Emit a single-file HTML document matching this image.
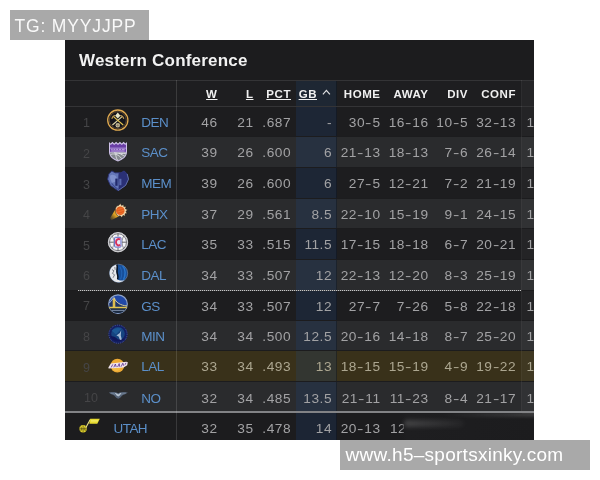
<!DOCTYPE html>
<html><head><meta charset="utf-8"><title>Western Conference</title><style>
*{margin:0;padding:0;box-sizing:border-box}
html,body{width:600px;height:480px;background:#fff;overflow:hidden}
body{position:relative;font-family:"Liberation Sans",sans-serif;}
.tg{position:absolute;left:10px;top:10px;width:139px;height:30px;background:#a9a9a9;color:rgba(255,255,255,0.93);font-size:17.5px;line-height:33px;padding-left:4.4px;white-space:nowrap;letter-spacing:0.85px}
.wm{position:absolute;left:340px;top:440px;width:250px;height:30px;background:#a9a9a9;color:#fff;font-size:19px;line-height:29px;padding-left:5.6px;white-space:nowrap;letter-spacing:0.27px}
.panel{position:absolute;left:65px;top:40px;width:469px;height:400px;background:#1c1c1e;overflow:hidden}
.soft{position:absolute;left:0;top:0;width:469px;height:400px;filter:blur(0.45px)}
.title{position:absolute;left:14px;top:9.7px;color:#f2f2f2;font-weight:bold;font-size:17px;line-height:22px;white-space:nowrap;letter-spacing:0.2px}
.sf{display:inline-block;filter:blur(0.35px)}
.hline{position:absolute;left:0;width:469px;height:1px;background:#343436}
.hdr{position:absolute;left:0;top:41px;width:469px;height:26px;background:#1e1e20}
.h{position:absolute;top:0;height:26px;line-height:26px;color:#f0f0f0;font-weight:bold;font-size:11.5px;text-align:right;white-space:nowrap;letter-spacing:0.55px}
.h u{text-decoration:underline;text-underline-offset:0.6px;text-decoration-thickness:1px}
.row{position:absolute;left:0;width:469px;overflow:hidden}
.row.d{background:#1d1d1f}
.row.l{background:#2a2b2d}
.row.y{background:#39311a}
.row.y .c{color:#aca690}
.row.y .c i{color:#aca690}
.c{position:absolute;top:0;height:100%;color:#a2a2a4;font-size:13.7px;text-align:right;white-space:nowrap;letter-spacing:0.5px}
.c i{display:inline-block;font-style:normal;transform:scaleX(1.4);margin:0 1.1px 0 1.2px}
.rk{position:absolute;top:0.8px;height:100%;color:#454547;font-size:12.5px;text-align:center;white-space:nowrap}
.tm{position:absolute;top:0;height:100%;color:#5b8fc9;font-size:13.5px;white-space:nowrap;letter-spacing:-0.55px}
.gbcol{position:absolute;left:231px;width:40.5px;top:0;height:100%;background:rgba(30,75,130,0.22);border-right:1px solid rgba(0,0,0,0.3)}
.lastcol{position:absolute;left:456.5px;width:13px;top:0;height:100%;background:rgba(255,255,255,0.035)}
.vline{position:absolute;width:1px;background:rgba(255,255,255,0.13)}
.logo{position:absolute}
</style></head><body>
<div class="tg"><span class="sf">TG: MYYJJPP</span></div>
<div class="panel"><div class="soft">
<div class="title">Western Conference</div>
<div class="hdr">
<div class="gbcol" style="background:rgba(30,75,130,0.2)"></div>
<div class="lastcol"></div>
<div class="h" style="left:92.5px;width:60px;line-height:26px"><u>W</u></div>
<div class="h" style="left:128.5px;width:60px;line-height:26px"><u>L</u></div>
<div class="h" style="left:166.0px;width:60px;line-height:26px"><u>PCT</u></div>
<div class="h" style="left:192.0px;width:60px;line-height:26px"><u>GB</u></div>
<svg class="logo" style="left:257px;top:8px" width="9" height="7" viewBox="0 0 9 7"><path d="M0.9 5.4 L4.4 1.3 L7.9 5.4" fill="none" stroke="#e0e0e2" stroke-width="1.15"/></svg>
<div class="h" style="left:255.5px;width:60px;line-height:26px">HOME</div>
<div class="h" style="left:303.5px;width:60px;line-height:26px">AWAY</div>
<div class="h" style="left:343.0px;width:60px;line-height:26px">DIV</div>
<div class="h" style="left:391.0px;width:60px;line-height:26px">CONF</div>
</div>
<div class="hline" style="top:40px"></div>
<div class="hline" style="top:66px"></div>
<div class="row d" style="top:66.90px;height:29.40px">
<div class="gbcol"></div><div class="lastcol"></div>
<div class="rk" style="left:6.5px;width:30px;line-height:31.70px">1</div>
<div class="tm" style="left:76.3px;line-height:31.70px">DEN</div>
<div class="c" style="left:92.5px;width:60px;line-height:31.70px">46</div>
<div class="c" style="left:128.5px;width:60px;line-height:31.70px">21</div>
<div class="c" style="left:166.0px;width:60px;line-height:31.70px">.687</div>
<div class="c" style="left:207.0px;width:60px;line-height:31.70px">-</div>
<div class="c" style="left:255.5px;width:60px;line-height:31.70px">30<i>-</i>5</div>
<div class="c" style="left:303.5px;width:60px;line-height:31.70px">16<i>-</i>16</div>
<div class="c" style="left:343.0px;width:60px;line-height:31.70px">10<i>-</i>5</div>
<div class="c" style="left:391.0px;width:60px;line-height:31.70px">32<i>-</i>13</div>
<div class="c" style="left:461.5px;width:20px;text-align:left;line-height:31.70px">1</div>
</div>
<div class="row l" style="top:97.30px;height:29.70px">
<div class="gbcol"></div><div class="lastcol"></div>
<div class="rk" style="left:6.5px;width:30px;line-height:32.10px">2</div>
<div class="tm" style="left:76.3px;line-height:32.10px">SAC</div>
<div class="c" style="left:92.5px;width:60px;line-height:32.10px">39</div>
<div class="c" style="left:128.5px;width:60px;line-height:32.10px">26</div>
<div class="c" style="left:166.0px;width:60px;line-height:32.10px">.600</div>
<div class="c" style="left:207.0px;width:60px;line-height:32.10px">6</div>
<div class="c" style="left:255.5px;width:60px;line-height:32.10px">21<i>-</i>13</div>
<div class="c" style="left:303.5px;width:60px;line-height:32.10px">18<i>-</i>13</div>
<div class="c" style="left:343.0px;width:60px;line-height:32.10px">7<i>-</i>6</div>
<div class="c" style="left:391.0px;width:60px;line-height:32.10px">26<i>-</i>14</div>
<div class="c" style="left:461.5px;width:20px;text-align:left;line-height:32.10px">1</div>
</div>
<div class="row d" style="top:128.00px;height:29.50px">
<div class="gbcol"></div><div class="lastcol"></div>
<div class="rk" style="left:6.5px;width:30px;line-height:32.30px">3</div>
<div class="tm" style="left:76.3px;line-height:32.30px">MEM</div>
<div class="c" style="left:92.5px;width:60px;line-height:32.30px">39</div>
<div class="c" style="left:128.5px;width:60px;line-height:32.30px">26</div>
<div class="c" style="left:166.0px;width:60px;line-height:32.30px">.600</div>
<div class="c" style="left:207.0px;width:60px;line-height:32.30px">6</div>
<div class="c" style="left:255.5px;width:60px;line-height:32.30px">27<i>-</i>5</div>
<div class="c" style="left:303.5px;width:60px;line-height:32.30px">12<i>-</i>21</div>
<div class="c" style="left:343.0px;width:60px;line-height:32.30px">7<i>-</i>2</div>
<div class="c" style="left:391.0px;width:60px;line-height:32.30px">21<i>-</i>19</div>
<div class="c" style="left:461.5px;width:20px;text-align:left;line-height:32.30px">1</div>
</div>
<div class="row l" style="top:158.50px;height:29.50px">
<div class="gbcol"></div><div class="lastcol"></div>
<div class="rk" style="left:6.5px;width:30px;line-height:32.30px">4</div>
<div class="tm" style="left:76.3px;line-height:32.30px">PHX</div>
<div class="c" style="left:92.5px;width:60px;line-height:32.30px">37</div>
<div class="c" style="left:128.5px;width:60px;line-height:32.30px">29</div>
<div class="c" style="left:166.0px;width:60px;line-height:32.30px">.561</div>
<div class="c" style="left:207.0px;width:60px;line-height:32.30px">8.5</div>
<div class="c" style="left:255.5px;width:60px;line-height:32.30px">22<i>-</i>10</div>
<div class="c" style="left:303.5px;width:60px;line-height:32.30px">15<i>-</i>19</div>
<div class="c" style="left:343.0px;width:60px;line-height:32.30px">9<i>-</i>1</div>
<div class="c" style="left:391.0px;width:60px;line-height:32.30px">24<i>-</i>15</div>
<div class="c" style="left:461.5px;width:20px;text-align:left;line-height:32.30px">1</div>
</div>
<div class="row d" style="top:189.00px;height:29.50px">
<div class="gbcol"></div><div class="lastcol"></div>
<div class="rk" style="left:6.5px;width:30px;line-height:32.30px">5</div>
<div class="tm" style="left:76.3px;line-height:32.30px">LAC</div>
<div class="c" style="left:92.5px;width:60px;line-height:32.30px">35</div>
<div class="c" style="left:128.5px;width:60px;line-height:32.30px">33</div>
<div class="c" style="left:166.0px;width:60px;line-height:32.30px">.515</div>
<div class="c" style="left:207.0px;width:60px;line-height:32.30px">11.5</div>
<div class="c" style="left:255.5px;width:60px;line-height:32.30px">17<i>-</i>15</div>
<div class="c" style="left:303.5px;width:60px;line-height:32.30px">18<i>-</i>18</div>
<div class="c" style="left:343.0px;width:60px;line-height:32.30px">6<i>-</i>7</div>
<div class="c" style="left:391.0px;width:60px;line-height:32.30px">20<i>-</i>21</div>
<div class="c" style="left:461.5px;width:20px;text-align:left;line-height:32.30px">1</div>
</div>
<div class="row l" style="top:219.50px;height:30.00px">
<div class="gbcol"></div><div class="lastcol"></div>
<div class="rk" style="left:6.5px;width:30px;line-height:32.30px">6</div>
<div class="tm" style="left:76.3px;line-height:32.30px">DAL</div>
<div class="c" style="left:92.5px;width:60px;line-height:32.30px">34</div>
<div class="c" style="left:128.5px;width:60px;line-height:32.30px">33</div>
<div class="c" style="left:166.0px;width:60px;line-height:32.30px">.507</div>
<div class="c" style="left:207.0px;width:60px;line-height:32.30px">12</div>
<div class="c" style="left:255.5px;width:60px;line-height:32.30px">22<i>-</i>13</div>
<div class="c" style="left:303.5px;width:60px;line-height:32.30px">12<i>-</i>20</div>
<div class="c" style="left:343.0px;width:60px;line-height:32.30px">8<i>-</i>3</div>
<div class="c" style="left:391.0px;width:60px;line-height:32.30px">25<i>-</i>19</div>
<div class="c" style="left:461.5px;width:20px;text-align:left;line-height:32.30px">1</div>
</div>
<div class="row d" style="top:250.50px;height:29.00px">
<div class="gbcol"></div><div class="lastcol"></div>
<div class="rk" style="left:6.5px;width:30px;line-height:31.30px">7</div>
<div class="tm" style="left:76.3px;line-height:31.30px">GS</div>
<div class="c" style="left:92.5px;width:60px;line-height:31.30px">34</div>
<div class="c" style="left:128.5px;width:60px;line-height:31.30px">33</div>
<div class="c" style="left:166.0px;width:60px;line-height:31.30px">.507</div>
<div class="c" style="left:207.0px;width:60px;line-height:31.30px">12</div>
<div class="c" style="left:255.5px;width:60px;line-height:31.30px">27<i>-</i>7</div>
<div class="c" style="left:303.5px;width:60px;line-height:31.30px">7<i>-</i>26</div>
<div class="c" style="left:343.0px;width:60px;line-height:31.30px">5<i>-</i>8</div>
<div class="c" style="left:391.0px;width:60px;line-height:31.30px">22<i>-</i>18</div>
<div class="c" style="left:461.5px;width:20px;text-align:left;line-height:31.30px">1</div>
</div>
<div class="row l" style="top:280.50px;height:29.50px">
<div class="gbcol"></div><div class="lastcol"></div>
<div class="rk" style="left:6.5px;width:30px;line-height:32.30px">8</div>
<div class="tm" style="left:76.3px;line-height:32.30px">MIN</div>
<div class="c" style="left:92.5px;width:60px;line-height:32.30px">34</div>
<div class="c" style="left:128.5px;width:60px;line-height:32.30px">34</div>
<div class="c" style="left:166.0px;width:60px;line-height:32.30px">.500</div>
<div class="c" style="left:207.0px;width:60px;line-height:32.30px">12.5</div>
<div class="c" style="left:255.5px;width:60px;line-height:32.30px">20<i>-</i>16</div>
<div class="c" style="left:303.5px;width:60px;line-height:32.30px">14<i>-</i>18</div>
<div class="c" style="left:343.0px;width:60px;line-height:32.30px">8<i>-</i>7</div>
<div class="c" style="left:391.0px;width:60px;line-height:32.30px">25<i>-</i>20</div>
<div class="c" style="left:461.5px;width:20px;text-align:left;line-height:32.30px">1</div>
</div>
<div class="row y" style="top:311.00px;height:29.50px">
<div class="gbcol"></div><div class="lastcol"></div>
<div class="rk" style="left:6.5px;width:30px;line-height:32.30px">9</div>
<div class="tm" style="left:76.3px;line-height:32.30px">LAL</div>
<div class="c" style="left:92.5px;width:60px;line-height:32.30px">33</div>
<div class="c" style="left:128.5px;width:60px;line-height:32.30px">34</div>
<div class="c" style="left:166.0px;width:60px;line-height:32.30px">.493</div>
<div class="c" style="left:207.0px;width:60px;line-height:32.30px">13</div>
<div class="c" style="left:255.5px;width:60px;line-height:32.30px">18<i>-</i>15</div>
<div class="c" style="left:303.5px;width:60px;line-height:32.30px">15<i>-</i>19</div>
<div class="c" style="left:343.0px;width:60px;line-height:32.30px">4<i>-</i>9</div>
<div class="c" style="left:391.0px;width:60px;line-height:32.30px">19<i>-</i>22</div>
<div class="c" style="left:461.5px;width:20px;text-align:left;line-height:32.30px">1</div>
</div>
<div class="row l" style="top:341.50px;height:29.50px">
<div class="gbcol"></div><div class="lastcol"></div>
<div class="rk" style="left:11.0px;width:30px;line-height:33.10px">10</div>
<div class="tm" style="left:76.3px;line-height:33.10px">NO</div>
<div class="c" style="left:92.5px;width:60px;line-height:33.10px">32</div>
<div class="c" style="left:128.5px;width:60px;line-height:33.10px">34</div>
<div class="c" style="left:166.0px;width:60px;line-height:33.10px">.485</div>
<div class="c" style="left:207.0px;width:60px;line-height:33.10px">13.5</div>
<div class="c" style="left:255.5px;width:60px;line-height:33.10px">21<i>-</i>11</div>
<div class="c" style="left:303.5px;width:60px;line-height:33.10px">11<i>-</i>23</div>
<div class="c" style="left:343.0px;width:60px;line-height:33.10px">8<i>-</i>4</div>
<div class="c" style="left:391.0px;width:60px;line-height:33.10px">21<i>-</i>17</div>
<div class="c" style="left:461.5px;width:20px;text-align:left;line-height:33.10px">1</div>
</div>
<div class="logo" style="left:41px;top:68.40px;width:24px;height:24px"><svg width="100%" height="100%" viewBox="0 0 24 24"><circle cx="11.8" cy="12.1" r="10.1" fill="#14151c" stroke="#e0aa50" stroke-width="1.3"/><circle cx="11.8" cy="12.1" r="8.5" fill="none" stroke="#8a6a3a" stroke-width="0.6"/><path d="M6.4 17 L16.4 8.4" stroke="#e2d8a8" stroke-width="1.1"/><path d="M17.2 17 L7.2 8.4" stroke="#e4c450" stroke-width="1.1"/><path d="M5.8 10.8 C6.3 8.8 7.6 7.7 9.4 7.5 M17.8 10.8 C17.3 8.8 16 7.7 14.2 7.5" stroke="#c09a50" stroke-width="1.1" fill="none"/><path d="M11.8 4.6 L14.4 7.7 L11.8 10.4 L9.2 7.7 Z" fill="#e8e6c6"/><circle cx="11.8" cy="17.3" r="2.2" fill="#cfc6a6"/><path d="M11.8 15.2 V19.4 M9.7 17.3 H13.9" stroke="#6a5c40" stroke-width="0.5"/></svg></div>
<div class="logo" style="left:41px;top:98.60px;width:24px;height:24px"><svg width="100%" height="100%" viewBox="0 0 24 24"><path d="M3 3 L4.6 4.4 L6.4 2.800 L8.2 4.4 L10.1 2.800 L12 4.4 L13.9 2.800 L15.800 4.4 L17.6 2.800 L19.4 4.4 L21 3 L21 13 C21 17.6 16.5 21 12 22.4 C7.5 21 3 17.6 3 13 Z" fill="#cfc2ea"/><path d="M4 5.2 L4.8 5.9 L6.4 4.400 L8.2 6 L10.1 4.400 L12 6 L13.9 4.400 L15.8 6 L17.6 4.400 L19.2 5.9 L20 5.2 L20 12.800 L4 12.800 Z" fill="#6a3ea6"/><rect x="4" y="8.6" width="16" height="1.1" fill="#a88cd4"/><rect x="4.4" y="10" width="15.2" height="2.600" fill="#7a4cb4"/><path d="M5.2 10.4 H6.6 M7.6 10.4 H9.2 M10.2 10.4 H12 M13 10.4 H15 M16 10.4 H18.6 M5.2 12 H18.6" stroke="#d8ccf0" stroke-width="0.7"/><path d="M4 13.6 L20 13.6 C19.6 17.4 16 20.2 12 21.4 C8 20.2 4.400 17.4 4 13.6 Z" fill="#858990"/><path d="M4.6 15.4 C9 14 13 16 15.6 19.6 M8 13.8 C12 14.6 17 14.6 19.800 14.4 M10 13.8 C9.400 17 10.400 19.400 11.6 21.2 M13 14.2 C15.400 15.400 17.600 16.600 18.6 17" stroke="#e8eaee" stroke-width="0.8" fill="none"/></svg></div>
<div class="logo" style="left:41px;top:128.90px;width:24px;height:24px"><svg width="100%" height="100%" viewBox="0 0 24 24"><path d="M2.8 5 L5.8 1.9 L9.2 3.8 L14.8 3.8 L18.2 1.9 L21.2 5 L22.5 10.2 L19.6 16.4 L12 21.8 L4.4 16.4 L1.6 10.2 Z" fill="#6476b8" stroke="#2a3070" stroke-width="0.9" stroke-linejoin="round"/><path d="M12.8 3.8 L14.8 3.8 L18.2 1.9 L21.2 5 L22.5 10.2 L19.6 16.4 L12.2 21.6 C13.6 16 11.4 10 12.8 3.8 Z" fill="#2a3076"/><path d="M21.2 5 L22.5 10.2 L19.6 16.4 L12.2 21.6" stroke="#7686bc" stroke-width="0.7" fill="none"/><path d="M4.2 6.4 C6.6 5.2 9 6 10.6 8.2 L10 12.4 L6.2 13.8 C4.4 11.4 3.8 8.800 4.2 6.4 Z" fill="#7f90cc"/><rect x="9.3" y="9.6" width="2.3" height="7.2" fill="#222a6c"/><rect x="13.3" y="9.8" width="2.1" height="6.4" fill="#5a6aae"/><path d="M5.6 14.4 C7.6 17 9.800 19 12 20.4" stroke="#3e4c94" stroke-width="1.1" fill="none"/></svg></div>
<div class="logo" style="left:41px;top:159.90px;width:24px;height:24px"><svg width="100%" height="100%" viewBox="0 0 24 24"><defs><linearGradient id="pg" gradientUnits="userSpaceOnUse" x1="14" y1="9" x2="4" y2="19"><stop offset="0" stop-color="#f09a28"/><stop offset="0.55" stop-color="#dca024"/><stop offset="1" stop-color="#c89018" stop-opacity="0.1"/></linearGradient></defs><path d="M16.5 14.6 L5.2 20.2 L4 18.200 L10.2 8 Z" fill="url(#pg)"/><path d="M14.4 3.6 L15.6 5.4 L17.6 4.400 L17.800 6.600 L20.2 6.600 L19.400 8.800 L21.600 9.800 L19.900 11.400 L21.200 13.400 L19 13.800 L19.200 16.200 L17 15.400 L15.800 17.600 L14.200 15.800 L12 16.400 L9.800 13 L9.400 8.600 L10.600 6 L12.400 5.600 Z" fill="#f2dab0" stroke="#1a1208" stroke-width="0.5"/><circle cx="14.3" cy="10.800" r="4.250" fill="#e45c1c"/><path d="M11.4 9.6 C13.400 9 15.400 8.400 17.400 7.800 M11.2 12.200 C13.600 11.600 16 10.800 18.400 10 M12.400 14.400 C14.400 14 16.400 13.200 18 12.400" stroke="#f08a3c" stroke-width="0.55" fill="none"/></svg></div>
<div class="logo" style="left:41px;top:190.40px;width:24px;height:24px"><svg width="100%" height="100%" viewBox="0 0 24 24"><circle cx="12" cy="12.2" r="9.7" fill="#f4f4f6" stroke="#cfcfd3" stroke-width="1"/><circle cx="12" cy="12.2" r="8.5" fill="none" stroke="#44444a" stroke-width="0.7"/><path d="M12 3.6 V20.8 M3.5 12.2 H20.5" stroke="#44444a" stroke-width="0.8"/><path d="M6 5.8 C8.6 9 8.6 15.4 6 18.6 M18 5.8 C15.4 9 15.4 15.4 18 18.6" stroke="#5c5c64" stroke-width="0.7" fill="none"/><rect x="7.8" y="6.600" width="8" height="11.200" rx="1" fill="#f4f4f6"/><rect x="8.600" y="7.300" width="6.400" height="9.800" rx="0.8" fill="#e8e4f0" stroke="#5a68c4" stroke-width="1"/><path d="M14.2 9.600 C12.400 8.200 10 9.400 10 12.200 C10 15 12.400 16.200 14.200 14.800" stroke="#d6305c" stroke-width="1.900" fill="none"/></svg></div>
<div class="logo" style="left:41px;top:221.00px;width:24px;height:24px"><svg width="100%" height="100%" viewBox="0 0 24 24"><circle cx="12.6" cy="12.3" r="9.100" fill="#174f9a" stroke="#8a98ac" stroke-width="0.5"/><path d="M16.600 4.800 C19.600 8 20 14 17.400 18.800" stroke="#2a74c8" stroke-width="1.500" fill="none"/><path d="M13.800 5.600 C16 9 16.200 14 14.600 18.400" stroke="#2464b4" stroke-width="1.100" fill="none"/><path d="M10.800 3.500 C6.400 4.400 3.600 8 3.600 12.300 C3.600 17 7.400 21 12 21.300 C14.600 21.300 16.600 20.600 18.200 19.200 C15 19.800 12 19.400 11.400 18 C12.400 15.600 10.600 13.400 10.400 10.600 C10.300 8 11.400 5.600 10.800 3.500 Z" fill="#e6e8ec"/><path d="M10.800 3.500 C12 6 10.800 8.400 11 11 C11.300 14 12.800 15.800 11.600 18.400" stroke="#08101c" stroke-width="1.500" fill="none"/><path d="M6 8.600 L8 9.800 L6.400 12.400 L8.600 13.800 L7 16.800 M8.800 6 L9.200 8.800" stroke="#80848c" stroke-width="1" fill="none"/></svg></div>
<div class="logo" style="left:41px;top:251.60px;width:24px;height:24px"><svg width="100%" height="100%" viewBox="0 0 24 24"><circle cx="12" cy="12.1" r="9.3" fill="#2148a6" stroke="#8ea2c6" stroke-width="1.200"/><path d="M3.300 15 L20.700 15 A9.300 9.300 0 0 1 3.300 15 Z" fill="#1b2a40"/><path d="M8 6.200 C9.400 11 14.400 13.800 20.800 14.200 L20.800 15 L3.400 15 L3.400 11.600 Z" fill="#1c2c50" opacity="0.75"/><path d="M6.700 6.400 L9.300 6.400 L9.300 16 L6.700 16 Z" fill="#dcbc50"/><path d="M8 5.400 C9.600 10.600 14.600 13.400 21 14" stroke="#d8cc98" stroke-width="1" fill="none"/><path d="M8 5.400 L3.400 11" stroke="#c4ccd8" stroke-width="0.7"/><path d="M3.200 15.500 H20.800" stroke="#e2c450" stroke-width="1.500"/><path d="M5.600 18.400 H18.400" stroke="#7a8aa4" stroke-width="1"/></svg></div>
<div class="logo" style="left:41px;top:282.10px;width:24px;height:24px"><svg width="100%" height="100%" viewBox="0 0 24 24"><circle cx="12" cy="12.2" r="9.600" fill="#141f62"/><circle cx="12" cy="12.2" r="9.100" fill="none" stroke="#7484bc" stroke-width="0.7" stroke-dasharray="0.7 1.2"/><circle cx="12" cy="11.8" r="6.800" fill="#164480"/><path d="M4.400 14.600 C7 13.800 9.200 15 12 17.600 L18.800 16.600 A9 9 0 0 1 4.400 14.600 Z" fill="#10175a"/><path d="M5.600 8.600 C8.400 6 12 5.200 15.600 6.600 L10 12.600 Z" fill="#2266a4" opacity="0.6"/><path d="M15.200 8.200 L13.800 11 L10.400 13.400 L12.600 14.600 L14 18 L15.800 17.400 L14.800 13.600 Z" fill="#a2b8d4"/></svg></div>
<div class="logo" style="left:41px;top:312.70px;width:24px;height:24px"><svg width="100%" height="100%" viewBox="0 0 24 24"><circle cx="11.4" cy="12.6" r="6.900" fill="#eeaa34"/><circle cx="10.400" cy="14" r="4" fill="#f6c450" opacity="0.6"/><path d="M4.800 10.600 L20.400 8.800 L21.800 9.200 L21.200 12.200 L17.600 14.400 L2.600 15.400 L2.400 14.600 Z" fill="#f0e4ec"/><path d="M5.200 14.400 L6.800 11.400 M7.800 14.300 L9.400 11 L10.200 14.100 M11.600 14 L13.200 10.600 L13.800 13.800 M15.200 13.600 L16.800 10.200 L17.800 12.800 M19 11.800 L20 9.800" stroke="#5e3492" stroke-width="0.85" fill="none"/></svg></div>
<div class="logo" style="left:41px;top:343.40px;width:24px;height:24px"><svg width="100%" height="100%" viewBox="0 0 24 24"><path d="M2.800 9.600 C6.600 8.600 9.800 9 12.200 10.200 C14.600 9 17.800 8.600 21.800 9.600 C20 11 18.200 11.800 16.200 12.400 L14.200 14.800 L12.200 15.800 L10.200 14.800 L8.200 12.400 C6.200 11.800 4.400 11 2.800 9.600 Z" fill="#566478"/><path d="M8.800 10 C10.200 10 11.200 10.600 12.200 11.400 C13.200 10.600 14.200 10 15.600 10 L13.800 12.600 L12.200 13.600 L10.600 12.600 Z" fill="#b8c4d2"/><path d="M4.600 10 C6.400 10.200 7.600 10.600 9 11.400 M19.800 10 C18 10.200 16.800 10.600 15.400 11.400" stroke="#8090a6" stroke-width="0.7" fill="none"/></svg></div>
<div style="position:absolute;left:13px;width:443px;top:250px;height:1px;background:repeating-linear-gradient(90deg,#c6c6c6 0 1px,rgba(140,140,140,0.45) 1px 2px)"></div>
<div style="position:absolute;left:0;width:469px;top:371px;height:1.5px;background:#828386"></div>
<div class="row d" style="top:373px;height:27px;background:#1c1c1e">
<div class="gbcol"></div><div class="lastcol"></div>
<div class="logo" style="left:12px;top:3px;width:24px;height:20px"><svg width="100%" height="100%" viewBox="0 0 24 20"><circle cx="6.100" cy="12.800" r="3.700" fill="#e2d42c"/><path d="M6.100 9.300 V16.300 M2.600 12.800 H9.600 M3.600 10.400 C4.800 11.800 4.800 13.800 3.600 15.200 M8.600 10.400 C7.400 11.800 7.400 13.800 8.600 15.200" stroke="#3a3410" stroke-width="0.6" fill="none"/><path d="M8.900 11.600 L13.300 3.400" stroke="#ece48c" stroke-width="1.100"/><path d="M13.200 2.800 L22.800 2.800 L20.300 7.700 L12.300 7.700 Z" fill="#e6da30"/><path d="M14 4.900 L21 4.900" stroke="#f4f088" stroke-width="0.9"/></svg></div>
<div class="tm" style="left:48.5px;line-height:31.2px">UTAH</div>
<div class="c" style="left:92.5px;width:60px;line-height:31.2px">32</div>
<div class="c" style="left:128.5px;width:60px;line-height:31.2px">35</div>
<div class="c" style="left:166.0px;width:60px;line-height:31.2px">.478</div>
<div class="c" style="left:207.0px;width:60px;line-height:31.2px">14</div>
<div class="c" style="left:255.5px;width:60px;line-height:31.2px">20<i>-</i>13</div>
<div class="c" style="left:325px;width:14px;text-align:left;line-height:31.2px;overflow:hidden">12</div>
<div style="position:absolute;left:336px;top:1px;width:135px;height:26px;background:linear-gradient(90deg,rgba(28,28,30,0) 0,rgba(30,30,32,1) 6px,rgba(28,28,30,1) 100%)"></div>
<div style="position:absolute;left:339px;top:7px;width:60px;height:7px;border-radius:4px;background:linear-gradient(90deg,rgba(255,255,255,0.17),rgba(255,255,255,0.03));filter:blur(2px)"></div>
<div style="position:absolute;left:375px;top:-1px;width:100px;height:5px;background:linear-gradient(90deg,rgba(255,255,255,0),rgba(255,255,255,0.14));filter:blur(1.5px)"></div>
</div>
<div class="vline" style="left:111px;top:40px;height:360px"></div>
<div class="vline" style="left:456px;top:40px;height:331px;background:rgba(255,255,255,0.07)"></div>
</div></div>
<div class="wm"><span class="sf">www.h5&#8211;sportsxinky.com</span></div>
</body></html>
